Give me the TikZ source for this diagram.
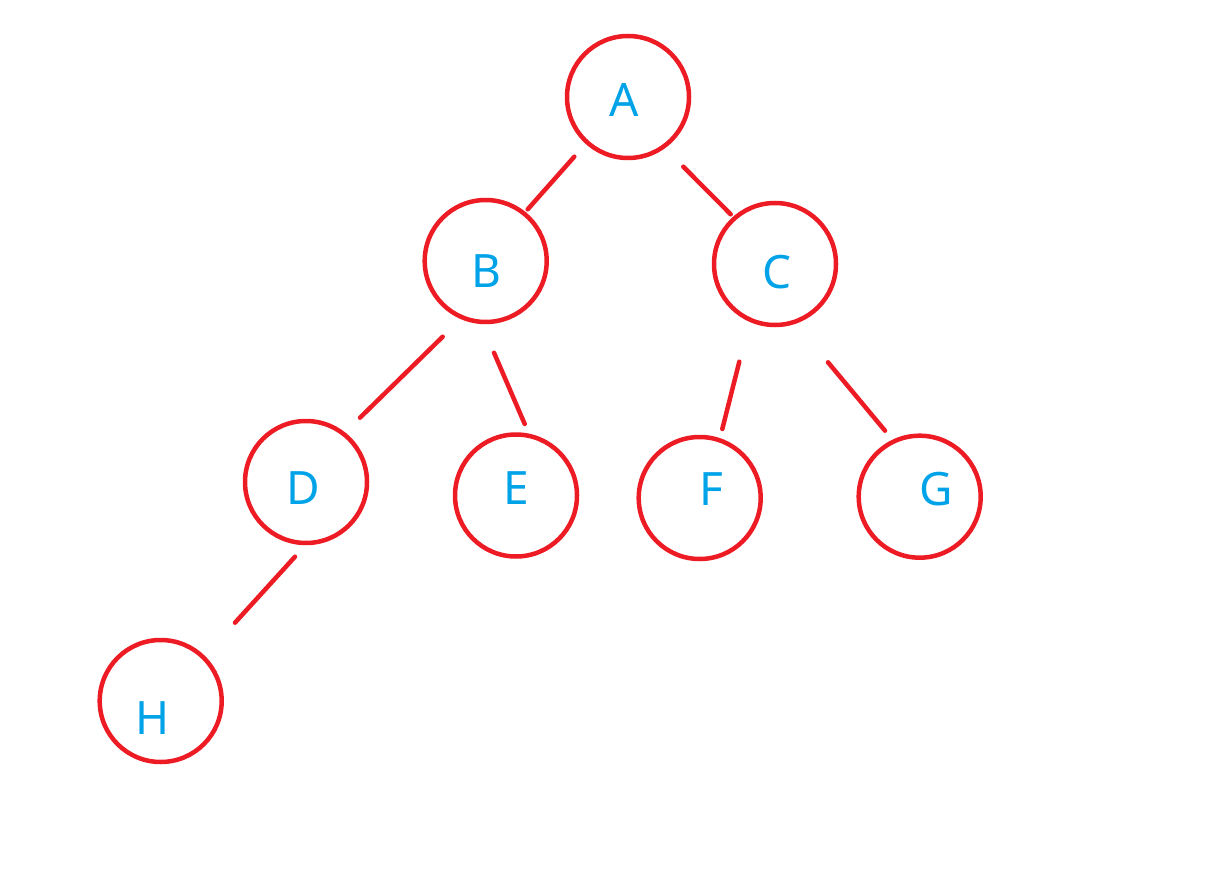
\documentclass[tikz,border=0pt]{standalone}
\usepackage{fontspec}
\setmainfont{Noto Sans}
\usetikzlibrary{calc}
\definecolor{treered}{RGB}{237,28,36}
\definecolor{treeblue}{RGB}{0,162,232}
\begin{document}
\begin{tikzpicture}[x=1pt,y=-1pt,
  treenode/.style={circle,draw=treered,line width=4.5pt,minimum size=122pt,inner sep=0pt,outer sep=0pt},
  treelabel/.style={anchor=base,inner sep=0pt,text=treeblue,font=\fontsize{46}{46}\selectfont},
  treeedge/.style={draw=treered,line width=4.5pt,line cap=round}]
\useasboundingbox (0,0) rectangle (1209,890);
\node[treenode] (A) at (628,97) {};
\node[treenode] (B) at (485.7,261) {};
\node[treenode] (C) at (775,264) {};
\node[treenode] (D) at (306,482) {};
\node[treenode] (E) at (516,495.5) {};
\node[treenode] (F) at (699.7,498) {};
\node[treenode] (G) at (919.7,496.7) {};
\node[treenode] (H) at (160.7,701) {};
\node[treelabel] (lA) at (624.5,117) {A};
\node[treelabel] (lB) at (486.5,288) {B};
\node[treelabel] (lC) at (777,289) {C};
\node[treelabel] (lD) at (303.5,504) {D};
\node[treelabel] (lE) at (516,504) {E};
\node[treelabel] (lF) at (711,505) {F};
\node[treelabel] (lG) at (936.7,505) {G};
\node[treelabel] (lH) at (152.5,734) {H};
\draw[treeedge] ($(A)+(-53.7,59.7)$) -- ($(B)+(42,-51.7)$);
\draw[treeedge] ($(A)+(55.3,69.7)$) -- ($(C)+(-44.3,-49.7)$);
\draw[treeedge] ($(B)+(-43,75.7)$) -- ($(D)+(54,-64.3)$);
\draw[treeedge] ($(B)+(8.3,91.7)$) -- ($(E)+(8.7,-71.5)$);
\draw[treeedge] ($(C)+(-35.7,97.7)$) -- ($(F)+(22.6,-69)$);
\draw[treeedge] ($(C)+(53,98.3)$) -- ($(G)+(-34.7,-66)$);
\draw[treeedge] ($(D)+(-11,74.7)$) -- ($(H)+(74.3,-78.3)$);
\end{tikzpicture}
\end{document}
